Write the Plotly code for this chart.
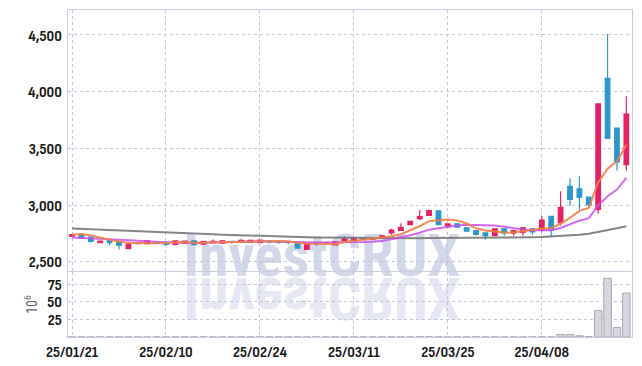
import plotly.graph_objects as go
from plotly.subplots import make_subplots

dates = ["25/01/21", "25/01/22", "25/01/23", "25/01/24", "25/01/31",
         "25/02/03", "25/02/04", "25/02/05", "25/02/06", "25/02/07",
         "25/02/10", "25/02/11", "25/02/12", "25/02/13", "25/02/14",
         "25/02/17", "25/02/18", "25/02/19", "25/02/20", "25/02/21",
         "25/02/24", "25/02/25", "25/02/26", "25/02/27", "25/02/28",
         "25/03/04", "25/03/05", "25/03/06", "25/03/07", "25/03/10",
         "25/03/11", "25/03/12", "25/03/13", "25/03/14", "25/03/17",
         "25/03/18", "25/03/19", "25/03/20", "25/03/21", "25/03/24",
         "25/03/25", "25/03/26", "25/03/27", "25/03/28", "25/03/31",
         "25/04/01", "25/04/02", "25/04/03", "25/04/04", "25/04/07",
         "25/04/08", "25/04/09", "25/04/10", "25/04/11", "25/04/14",
         "25/04/15", "25/04/16", "25/04/17", "25/04/18", "25/04/21"]

opens = [2726, 2740, 2718, 2670, 2690, 2678, 2616, 2662, 2661, 2670,
         2673, 2652, 2664, 2685, 2656, 2670, 2665, 2680, 2672, 2672,
         2670, 2682, 2680, 2678, 2660, 2610, 2670, 2668, 2650, 2690,
         2682, 2710, 2700, 2707, 2755, 2778, 2828, 2880, 2910, 2950,
         2811, 2835, 2800, 2776, 2755, 2732, 2791, 2754, 2762, 2791,
         2780, 2902, 2845, 3165, 3143, 3070, 2962, 4118, 3680, 3356]
highs = [2745, 2745, 2720, 2688, 2695, 2680, 2660, 2666, 2688, 2676,
         2676, 2688, 2685, 2688, 2684, 2696, 2688, 2685, 2700, 2698,
         2696, 2688, 2684, 2682, 2662, 2662, 2676, 2675, 2682, 2726,
         2722, 2716, 2710, 2735, 2792, 2840, 2862, 2958, 2962, 2952,
         2836, 2838, 2802, 2778, 2756, 2792, 2793, 2778, 2802, 2793,
         2905, 2904, 3123, 3237, 3255, 3072, 3895, 4508, 3685, 3960]
lows = [2722, 2705, 2670, 2668, 2647, 2608, 2612, 2655, 2658, 2664,
        2640, 2650, 2660, 2650, 2654, 2668, 2662, 2660, 2668, 2668,
        2665, 2665, 2660, 2655, 2618, 2606, 2640, 2660, 2645, 2680,
        2676, 2690, 2695, 2705, 2738, 2775, 2826, 2870, 2908, 2826,
        2808, 2803, 2768, 2730, 2695, 2730, 2730, 2730, 2730, 2738,
        2760, 2728, 2820, 2992, 2962, 2973, 2925, 3586, 3305, 3306]
closes = [2740, 2708, 2680, 2684, 2670, 2647, 2657, 2660, 2685, 2668,
          2653, 2685, 2682, 2652, 2680, 2680, 2685, 2672, 2690, 2690,
          2692, 2676, 2674, 2672, 2620, 2660, 2664, 2670, 2678, 2703,
          2712, 2700, 2705, 2730, 2780, 2805, 2858, 2898, 2952, 2828,
          2834, 2806, 2770, 2742, 2732, 2790, 2756, 2775, 2800, 2764,
          2868, 2778, 2980, 3050, 3070, 3004, 3892, 3588, 3380, 3802]

ma5 = [2738, 2745, 2732, 2715, 2696, 2678, 2668, 2664, 2664, 2663,
       2665, 2670, 2675, 2668, 2670, 2676, 2676, 2674, 2681, 2683,
       2686, 2684, 2684, 2681, 2667, 2660, 2658, 2657, 2658, 2675,
       2685, 2693, 2700, 2710, 2725, 2744, 2776, 2814, 2859, 2868,
       2874, 2864, 2838, 2796, 2777, 2768, 2758, 2759, 2771, 2777,
       2793, 2797, 2838, 2888, 2949, 2976, 3199, 3321, 3387, 3533]
ma10 = [2714, 2712, 2708, 2704, 2700, 2695, 2690, 2688, 2686, 2680,
        2671, 2669, 2669, 2666, 2667, 2670, 2673, 2674, 2675, 2677,
        2681, 2680, 2679, 2681, 2675, 2673, 2671, 2671, 2670, 2671,
        2673, 2675, 2678, 2684, 2700, 2715, 2734, 2757, 2784, 2797,
        2809, 2820, 2826, 2827, 2823, 2821, 2811, 2799, 2783, 2777,
        2780, 2778, 2799, 2829, 2863, 2885, 2998, 3079, 3137, 3241]
ma60 = [2795, 2792, 2789, 2786, 2783, 2779, 2776, 2772, 2769, 2765,
        2762, 2758, 2755, 2751, 2748, 2744, 2740, 2737, 2733, 2729,
        2726, 2724, 2722, 2720, 2718, 2717, 2715, 2714, 2713, 2712,
        2711, 2710, 2710, 2709, 2709, 2709, 2709, 2709, 2710, 2710,
        2710, 2710, 2710, 2711, 2711, 2712, 2713, 2714, 2715, 2716,
        2718, 2722, 2727, 2732, 2738, 2747, 2762, 2782, 2797, 2814]

volume = [0.1, 0.1, 0.1, 0.1, 0.1, 0.1, 0.1, 0.1, 0.1, 0.1,
          0.1, 0.1, 0.1, 0.1, 0.1, 0.1, 0.1, 0.1, 0.1, 0.1,
          0.1, 0.1, 0.1, 0.1, 0.1, 0.1, 0.1, 0.1, 0.1, 0.1,
          0.1, 0.1, 0.1, 0.1, 0.2, 0.2, 0.2, 0.3, 0.3, 0.2,
          0.1, 0.1, 0.1, 0.1, 0.1, 0.1, 0.1, 0.1, 0.1, 0.1,
          0.3, 0.2, 3.6, 3.6, 1.7, 0.3, 37.5, 83.5, 13.4, 62.5]

tick_labels = ["25/01/21", "25/02/10", "25/02/24", "25/03/11", "25/03/25", "25/04/08"]
price_ticks = [2500, 3000, 3500, 4000, 4500]
volume_ticks = [25, 50, 75]
watermark = "InvestCRUX"

RED = "rgb(228,32,102)"
BLUE = "rgb(44,150,204)"
FRAME = "rgb(204,204,222)"
GRID = "rgb(196,196,220)"
NARROW = "Roboto Condensed, Archivo Narrow, Liberation Sans, sans-serif"
LABELS = "Sofia Sans Condensed, Roboto Condensed, Liberation Sans, sans-serif"

fig = make_subplots(rows=2, cols=1, shared_xaxes=True, vertical_spacing=0.0,
                    row_heights=[0.8, 0.2])

fig.add_trace(go.Candlestick(x=dates, open=opens, high=highs, low=lows, close=closes,
                             increasing=dict(line=dict(color=RED, width=1.2), fillcolor=RED),
                             decreasing=dict(line=dict(color=BLUE, width=1.2), fillcolor=BLUE),
                             whiskerwidth=0, showlegend=False, hoverinfo="skip"),
              row=1, col=1)

fig.add_trace(go.Scatter(x=dates, y=ma60, mode="lines",
                         line=dict(color="rgb(120,120,120)", width=2),
                         opacity=0.9, showlegend=False, hoverinfo="skip"), row=1, col=1)
fig.add_trace(go.Scatter(x=dates, y=ma10, mode="lines",
                         line=dict(color="rgb(204,80,240)", width=2),
                         opacity=0.85, showlegend=False, hoverinfo="skip"), row=1, col=1)
fig.add_trace(go.Scatter(x=dates, y=ma5, mode="lines",
                         line=dict(color="rgb(240,128,70)", width=2),
                         opacity=0.9, showlegend=False, hoverinfo="skip"), row=1, col=1)

fig.add_trace(go.Bar(x=dates, y=volume,
                     marker=dict(color="rgb(214,214,222)",
                                 line=dict(color="rgb(168,168,180)", width=1)),
                     showlegend=False, hoverinfo="skip"), row=2, col=1)

# watermark and its reflection, below the grid
fig.add_shape(type="rect", xref="paper", yref="paper",
              x0=0.35, x1=0.55, y0=0.231, y1=0.291,
              line=dict(width=0), fillcolor="rgba(0,0,0,0)", layer="below",
              label=dict(text=watermark, textposition="middle center",
                         font=dict(family=NARROW, size=59, weight="bold",
                                   color="rgb(210,215,234)")))
fig.add_shape(type="rect", xref="paper", yref="paper",
              x0=0.35, x1=0.55, y0=0.100, y1=0.160,
              line=dict(width=0), fillcolor="rgba(0,0,0,0)", layer="below",
              label=dict(text=watermark, textposition="middle center",
                         font=dict(family=NARROW, size=59, weight="bold",
                                   color="rgb(229,231,243)")))

axis_common = dict(showline=True, mirror=True, linecolor=FRAME, linewidth=1,
                   showgrid=True, gridcolor=GRID, griddash="dot", gridwidth=1,
                   zeroline=False, ticks="")
label_font = dict(family=LABELS, size=16, color="#1a1a1a", weight=700)

fig.update_xaxes(type="category", categoryorder="array", categoryarray=dates,
                 range=[-0.43, 59.6], tickmode="array",
                 tickvals=tick_labels, ticktext=tick_labels,
                 rangeslider_visible=False, **axis_common)
fig.update_xaxes(showticklabels=False, row=1, col=1)
fig.update_xaxes(showticklabels=True, tickfont=label_font, row=2, col=1)

fig.update_yaxes(range=[2417, 4720], tickmode="array", tickvals=price_ticks,
                 tickformat=",d", tickfont=label_font,
                 ticklabelstandoff=2, row=1, col=1, **axis_common)
fig.update_yaxes(range=[0, 92.6], tickmode="array", tickvals=volume_ticks,
                 tickfont=label_font, ticklabelstandoff=2,
                 title=dict(text="10<sup>6</sup>",
                            font=dict(family="Roboto Condensed, Liberation Sans", size=14, color="#666666"),
                            standoff=6),
                 row=2, col=1, **axis_common)

fig.update_layout(width=642, height=366, margin=dict(l=68, r=10, t=10, b=29, autoexpand=False),
                  paper_bgcolor="white", plot_bgcolor="white", showlegend=False,
                  xaxis_rangeslider_visible=False)
fig.update_layout(yaxis=dict(domain=[0.201, 1.0]), yaxis2=dict(domain=[0.0, 0.199]))

post = """
document.body.style.margin = '0';
document.body.style.overflow = 'hidden';
var gd = document.getElementById('{plot_id}');
var best = null, by = -1e9;
gd.querySelectorAll('text').forEach(function(t) {
  if (t.textContent === 'InvestCRUX') {
    var r = t.getBoundingClientRect();
    if (r.top > by) { by = r.top; best = t; }
  }
});
if (best) {
  var bb = best.getBBox();
  var cy = bb.y + bb.height / 2;
  var tr = best.getAttribute('transform') || '';
  best.setAttribute('transform', tr + ' translate(0,' + (2 * cy) + ') scale(1,-1)');
}
"""

fig.write_html("out.html", post_script=post, config={"displayModeBar": False})
